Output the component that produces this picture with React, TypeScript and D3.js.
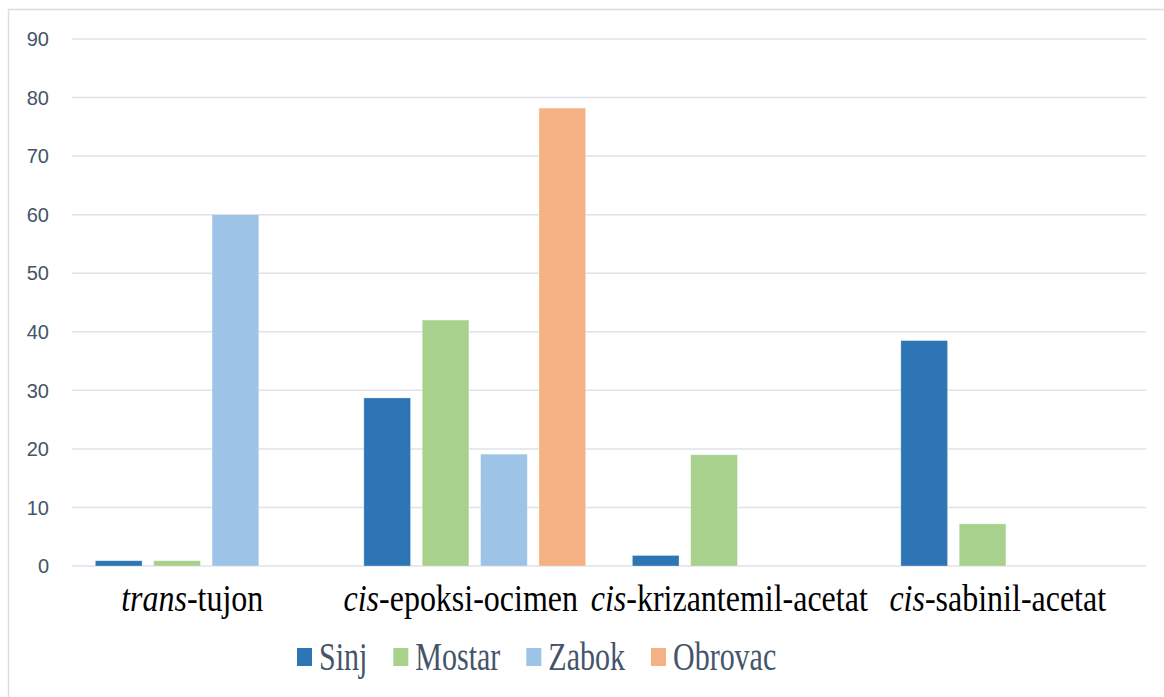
import React from 'react';
import * as d3 from 'd3';

const categories = ['trans-tujon', 'cis-epoksi-ocimen', 'cis-krizantemil-acetat', 'cis-sabinil-acetat'];
const series = ['Sinj', 'Mostar', 'Zabok', 'Obrovac'];
const sinj = [0.9, 28.7, 1.8, 38.5];
const mostar = [0.9, 42.0, 19.0, 7.2];
const zabok = [60.0, 19.1, 0, 0];
const obrovac = [0, 78.2, 0, 0];
const yTicks = [0, 10, 20, 30, 40, 50, 60, 70, 80, 90];
const colors = ['#2E75B6', '#A9D18E', '#9DC3E6', '#F4B183'];

const values = [sinj, mostar, zabok, obrovac];
const serif = "'Liberation Serif', 'Times New Roman', serif";

const W = 1164;
const H = 697;

// measure legend label widths so items can be laid out in a row
const measure = (s: string, font: string) => {
  const ctx = document.createElement('canvas').getContext('2d');
  if (!ctx) return s.length * 15;
  ctx.font = font;
  return ctx.measureText(s).width;
};

const App = () => {
  const x = d3.scaleBand().domain(categories).range([72, 1146]);
  const xs = d3.scaleBand().domain(series).range([0, x.bandwidth()])
    .paddingInner(0.2).paddingOuter(0.4);
  const y = d3.scaleLinear().domain([0, 90]).range([566, 39]);

  let lx = 297;
  const legend = series.map((s, i) => {
    const item = { s, i, x: lx };
    lx += 22 + measure(s, `30px ${serif}`) + 26;
    return item;
  });

  return (
    <svg width={W} height={H} style={{ position: 'absolute', left: 0, top: 0, background: '#fff' }}>
      <rect x={8.5} y={9.5} width={1170} height={700} fill="#fff" stroke="#D9DDE3" strokeWidth={1.5} />

      {yTicks.map(t => (
        <g key={t}>
          <line x1={72} x2={1146} y1={y(t)} y2={y(t)} stroke="#DEE2E8" strokeWidth={1.5} />
          <text x={49} y={y(t)} dy="0.36em" textAnchor="end" fontSize={20} fill="#44546A"
            style={{ fontFamily: "'Liberation Sans', Arial, sans-serif" }}>{t}</text>
        </g>
      ))}

      {series.map((s, si) => (
        <g key={s} fill={colors[si]}>
          {categories.map((c, ci) => values[si][ci] > 0 && (
            <rect key={c}
              x={(x(c) as number) + (xs(s) as number)}
              y={y(values[si][ci])}
              width={xs.bandwidth()}
              height={y(0) - y(values[si][ci])}
              stroke="#fff" strokeOpacity={0.4} strokeWidth={0.75} />
          ))}
        </g>
      ))}

      {categories.map(c => {
        const [pre, ...rest] = c.split('-');
        return (
          <text key={c} transform={`translate(${(x(c) as number) + x.bandwidth() / 2 - 14},611) scale(1,1.2)`}
            textAnchor="middle" fontSize={32} fill="#000" style={{ fontFamily: serif }}>
            <tspan fontStyle="italic">{pre}</tspan>{'-' + rest.join('-')}
          </text>
        );
      })}

      {legend.map(d => (
        <g key={d.s}>
          <rect x={d.x} y={648} width={15} height={18} fill={colors[d.i]} />
          <text transform={`translate(${d.x + 22},670) scale(1,1.3)`} fontSize={30} fill="#44546A"
            style={{ fontFamily: serif }}>{d.s}</text>
        </g>
      ))}
    </svg>
  );
};

export default App;
